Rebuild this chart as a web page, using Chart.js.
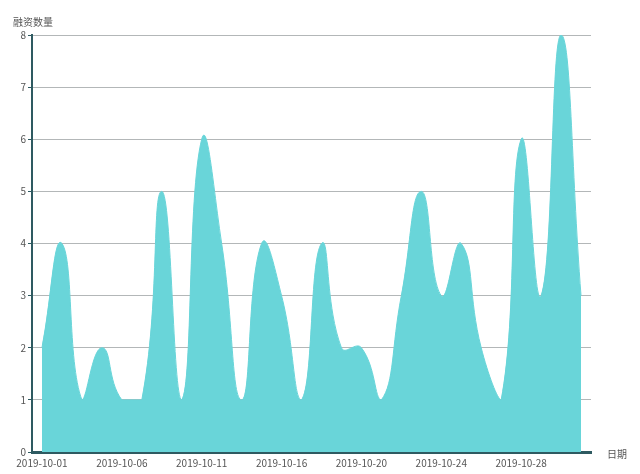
<!DOCTYPE html>
<html>
<head>
<meta charset="utf-8">
<script src="https://cdn.jsdelivr.net/npm/chart.js@4/dist/chart.umd.min.js"></script>
<style>
  html, body { margin: 0; padding: 0; background: #fff; }
  #wrap { width: 640px; height: 474px; position: relative; }
</style>
</head>
<body>
<div id="wrap"><canvas id="chart"></canvas></div>
<script>
// October 2019 dates on the category axis (a few days have no entry)
const dates = [
  "2019-10-01", "2019-10-02", "2019-10-03", "2019-10-04", "2019-10-06",
  "2019-10-07", "2019-10-08", "2019-10-09", "2019-10-11", "2019-10-12",
  "2019-10-13", "2019-10-14", "2019-10-16", "2019-10-17", "2019-10-18",
  "2019-10-19", "2019-10-20", "2019-10-21", "2019-10-22", "2019-10-23",
  "2019-10-24", "2019-10-25", "2019-10-26", "2019-10-27", "2019-10-28",
  "2019-10-29", "2019-10-30", "2019-10-31",
];

// number of financing deals per day
const dealCounts = [
  2, 4, 1, 2, 1, 1, 5, 1, 6, 4, 1, 4, 3, 1, 4, 2, 2, 1, 3, 5, 3, 4, 2, 1, 6, 3,
  8, 3,
];

const yTicks = [0, 1, 2, 3, 4, 5, 6, 7, 8];
const yAxisName = "融资数量";
const xAxisName = "日期";
const labelEvery = 4;

const fillColor = "#69d5d9";
const axisColor = "#2e5a61";
const textColor = "#555";
const fontFamily = '"Noto Sans CJK SC", "Noto Sans", sans-serif';

Chart.defaults.font.family = fontFamily;
Chart.defaults.font.size = 10;
Chart.defaults.color = textColor;

// keep the bezier handles inside the data range, like the original smooth area
const clampCurve = {
  id: "clampCurve",
  beforeDatasetsDraw(chart) {
    const y = chart.scales.y;
    const top = y.getPixelForValue(Math.max(...dealCounts));
    const bottom = y.getPixelForValue(Math.min(...dealCounts));
    chart.getSortedVisibleDatasetMetas().forEach((meta) => {
      meta.dataset.updateControlPoints(chart.chartArea, "x");
      meta.data.forEach((pt) => {
        pt.cp1y = Math.min(Math.max(pt.cp1y, top), bottom);
        pt.cp2y = Math.min(Math.max(pt.cp2y, top), bottom);
      });
    });
  },
};

const axisNames = {
  id: "axisNames",
  afterDraw(chart) {
    const ctx = chart.ctx;
    const area = chart.chartArea;
    ctx.save();
    ctx.font = "10px " + fontFamily;
    ctx.fillStyle = textColor;
    ctx.textBaseline = "middle";
    ctx.textAlign = "left";
    ctx.fillText(yAxisName, 13, area.top - 13);
    ctx.fillText(xAxisName, area.right + 16, area.bottom + 2);
    ctx.restore();
  },
};

new Chart(document.getElementById("chart"), {
  type: "line",
  data: {
    labels: dates,
    datasets: [
      {
        data: dealCounts,
        backgroundColor: fillColor,
        borderColor: fillColor,
        borderWidth: 1,
        fill: "origin",
        tension: 0.5,
        pointRadius: 0,
      },
    ],
  },
  options: {
    responsive: true,
    maintainAspectRatio: false,
    animation: false,
    layout: {
      padding: { top: 35, right: 49, bottom: 0, left: 0 },
    },
    plugins: {
      legend: { display: false },
      tooltip: { enabled: false },
    },
    scales: {
      x: {
        offset: true,
        afterFit: (scale) => {
          scale.height = 22;
        },
        grid: { display: false, drawTicks: false },
        border: { display: true, color: axisColor, width: 3 },
        ticks: {
          autoSkip: false,
          maxRotation: 0,
          padding: 5,
          callback: (val, i) => (i % labelEvery === 0 ? dates[i] : ""),
        },
      },
      y: {
        min: yTicks[0],
        max: yTicks[yTicks.length - 1],
        afterFit: (scale) => {
          scale.width = 32;
        },
        afterBuildTicks: (scale) => {
          scale.ticks = yTicks.map((v) => ({ value: v }));
        },
        grid: {
          color: "#b3b7b8",
          tickColor: axisColor,
          tickLength: 4,
        },
        border: { display: true, color: axisColor, width: 2 },
        ticks: { padding: 2 },
      },
    },
  },
  plugins: [clampCurve, axisNames],
});
</script>
</body>
</html>
